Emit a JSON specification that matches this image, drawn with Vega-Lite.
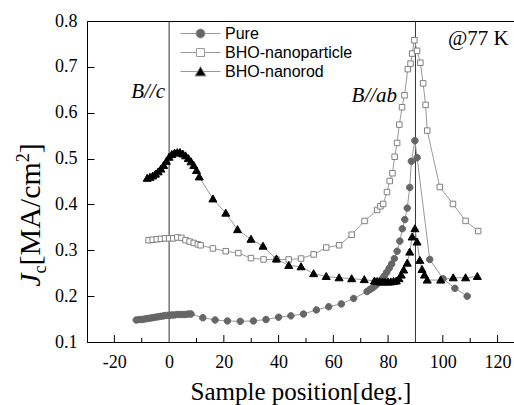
{
  "$schema": "https://vega.github.io/schema/vega-lite/v6.json",
  "width": 427,
  "height": 321,
  "autosize": {"type": "none"},
  "padding": {"left": 87, "top": 21, "right": 0, "bottom": 63},
  "background": "white",
  "config": {
    "view": {"stroke": "black", "strokeWidth": 1},
    "axis": {"grid": false, "domainColor": "black", "tickColor": "black", "labelColor": "black", "titleColor": "black"}
  },
  "datasets": {
    "jc": [
      {"series": "Pure", "x": -12, "y": 0.148}, {"series": "Pure", "x": -11, "y": 0.149}, {"series": "Pure", "x": -10, "y": 0.149}, {"series": "Pure", "x": -9, "y": 0.150}, {"series": "Pure", "x": -8, "y": 0.151}, {"series": "Pure", "x": -7, "y": 0.152}, {"series": "Pure", "x": -6, "y": 0.153}, {"series": "Pure", "x": -5, "y": 0.154}, {"series": "Pure", "x": -4, "y": 0.155}, {"series": "Pure", "x": -3, "y": 0.156}, {"series": "Pure", "x": -2, "y": 0.157}, {"series": "Pure", "x": -1, "y": 0.158}, {"series": "Pure", "x": 0, "y": 0.158}, {"series": "Pure", "x": 1, "y": 0.159}, {"series": "Pure", "x": 2, "y": 0.159}, {"series": "Pure", "x": 3, "y": 0.160}, {"series": "Pure", "x": 4, "y": 0.160}, {"series": "Pure", "x": 5, "y": 0.160}, {"series": "Pure", "x": 6, "y": 0.160}, {"series": "Pure", "x": 7, "y": 0.161}, {"series": "Pure", "x": 8, "y": 0.161},
      {"series": "Pure", "x": 12.3, "y": 0.153}, {"series": "Pure", "x": 16.8, "y": 0.148}, {"series": "Pure", "x": 21.3, "y": 0.146}, {"series": "Pure", "x": 26, "y": 0.145}, {"series": "Pure", "x": 30.8, "y": 0.146}, {"series": "Pure", "x": 35.4, "y": 0.149}, {"series": "Pure", "x": 40, "y": 0.154}, {"series": "Pure", "x": 44.5, "y": 0.157}, {"series": "Pure", "x": 49.1, "y": 0.161}, {"series": "Pure", "x": 53.8, "y": 0.170}, {"series": "Pure", "x": 58.3, "y": 0.177}, {"series": "Pure", "x": 62.9, "y": 0.183}, {"series": "Pure", "x": 67.4, "y": 0.195}, {"series": "Pure", "x": 72.3, "y": 0.210},
      {"series": "Pure", "x": 73.2, "y": 0.214}, {"series": "Pure", "x": 74.1, "y": 0.217}, {"series": "Pure", "x": 75, "y": 0.221}, {"series": "Pure", "x": 75.9, "y": 0.226}, {"series": "Pure", "x": 76.8, "y": 0.231}, {"series": "Pure", "x": 77.7, "y": 0.237}, {"series": "Pure", "x": 78.6, "y": 0.244}, {"series": "Pure", "x": 79.5, "y": 0.252}, {"series": "Pure", "x": 80.4, "y": 0.261}, {"series": "Pure", "x": 81.3, "y": 0.270}, {"series": "Pure", "x": 82.3, "y": 0.282}, {"series": "Pure", "x": 83.3, "y": 0.298}, {"series": "Pure", "x": 84.3, "y": 0.320}, {"series": "Pure", "x": 85.2, "y": 0.347}, {"series": "Pure", "x": 86.1, "y": 0.367}, {"series": "Pure", "x": 87, "y": 0.392}, {"series": "Pure", "x": 87.9, "y": 0.437}, {"series": "Pure", "x": 88.5, "y": 0.494}, {"series": "Pure", "x": 89.8, "y": 0.539}, {"series": "Pure", "x": 90.6, "y": 0.502}, {"series": "Pure", "x": 95.2, "y": 0.280}, {"series": "Pure", "x": 100.1, "y": 0.238}, {"series": "Pure", "x": 104.4, "y": 0.217}, {"series": "Pure", "x": 108.9, "y": 0.200},
      {"series": "BHO-nanoparticle", "x": -7.5, "y": 0.322}, {"series": "BHO-nanoparticle", "x": -6, "y": 0.323}, {"series": "BHO-nanoparticle", "x": -4.5, "y": 0.324}, {"series": "BHO-nanoparticle", "x": -3, "y": 0.325}, {"series": "BHO-nanoparticle", "x": -1.5, "y": 0.326}, {"series": "BHO-nanoparticle", "x": 0, "y": 0.326}, {"series": "BHO-nanoparticle", "x": 1.5, "y": 0.326}, {"series": "BHO-nanoparticle", "x": 3, "y": 0.328}, {"series": "BHO-nanoparticle", "x": 4.5, "y": 0.327}, {"series": "BHO-nanoparticle", "x": 6, "y": 0.322}, {"series": "BHO-nanoparticle", "x": 7.5, "y": 0.319}, {"series": "BHO-nanoparticle", "x": 9, "y": 0.316}, {"series": "BHO-nanoparticle", "x": 10.5, "y": 0.313}, {"series": "BHO-nanoparticle", "x": 11.5, "y": 0.311},
      {"series": "BHO-nanoparticle", "x": 16, "y": 0.304}, {"series": "BHO-nanoparticle", "x": 20.7, "y": 0.298}, {"series": "BHO-nanoparticle", "x": 25.3, "y": 0.294}, {"series": "BHO-nanoparticle", "x": 29.9, "y": 0.283}, {"series": "BHO-nanoparticle", "x": 34.5, "y": 0.280}, {"series": "BHO-nanoparticle", "x": 39.2, "y": 0.280}, {"series": "BHO-nanoparticle", "x": 43.7, "y": 0.280}, {"series": "BHO-nanoparticle", "x": 48.2, "y": 0.282}, {"series": "BHO-nanoparticle", "x": 52.8, "y": 0.291}, {"series": "BHO-nanoparticle", "x": 57.4, "y": 0.306}, {"series": "BHO-nanoparticle", "x": 62.1, "y": 0.311}, {"series": "BHO-nanoparticle", "x": 66.7, "y": 0.334}, {"series": "BHO-nanoparticle", "x": 71.4, "y": 0.364}, {"series": "BHO-nanoparticle", "x": 76, "y": 0.388}, {"series": "BHO-nanoparticle", "x": 77.2, "y": 0.396}, {"series": "BHO-nanoparticle", "x": 78.2, "y": 0.401}, {"series": "BHO-nanoparticle", "x": 79.6, "y": 0.427}, {"series": "BHO-nanoparticle", "x": 80.6, "y": 0.451}, {"series": "BHO-nanoparticle", "x": 81.6, "y": 0.468}, {"series": "BHO-nanoparticle", "x": 82.4, "y": 0.504}, {"series": "BHO-nanoparticle", "x": 83.3, "y": 0.534}, {"series": "BHO-nanoparticle", "x": 84.1, "y": 0.574}, {"series": "BHO-nanoparticle", "x": 85.1, "y": 0.612}, {"series": "BHO-nanoparticle", "x": 86, "y": 0.638}, {"series": "BHO-nanoparticle", "x": 87.2, "y": 0.695}, {"series": "BHO-nanoparticle", "x": 88.2, "y": 0.707}, {"series": "BHO-nanoparticle", "x": 88.8, "y": 0.729}, {"series": "BHO-nanoparticle", "x": 89.6, "y": 0.758}, {"series": "BHO-nanoparticle", "x": 90.6, "y": 0.735}, {"series": "BHO-nanoparticle", "x": 91.8, "y": 0.709}, {"series": "BHO-nanoparticle", "x": 92.8, "y": 0.664}, {"series": "BHO-nanoparticle", "x": 93.7, "y": 0.617}, {"series": "BHO-nanoparticle", "x": 94.3, "y": 0.561}, {"series": "BHO-nanoparticle", "x": 98.9, "y": 0.438}, {"series": "BHO-nanoparticle", "x": 103.7, "y": 0.401}, {"series": "BHO-nanoparticle", "x": 108.3, "y": 0.364}, {"series": "BHO-nanoparticle", "x": 112.9, "y": 0.342},
      {"series": "BHO-nanorod", "x": -8, "y": 0.457}, {"series": "BHO-nanorod", "x": -7, "y": 0.459}, {"series": "BHO-nanorod", "x": -6, "y": 0.462}, {"series": "BHO-nanorod", "x": -5, "y": 0.466}, {"series": "BHO-nanorod", "x": -4, "y": 0.471}, {"series": "BHO-nanorod", "x": -3, "y": 0.477}, {"series": "BHO-nanorod", "x": -2, "y": 0.485}, {"series": "BHO-nanorod", "x": -1, "y": 0.494}, {"series": "BHO-nanorod", "x": 0, "y": 0.503}, {"series": "BHO-nanorod", "x": 1, "y": 0.509}, {"series": "BHO-nanorod", "x": 2, "y": 0.512}, {"series": "BHO-nanorod", "x": 3, "y": 0.513}, {"series": "BHO-nanorod", "x": 4, "y": 0.513}, {"series": "BHO-nanorod", "x": 5, "y": 0.510}, {"series": "BHO-nanorod", "x": 6, "y": 0.506}, {"series": "BHO-nanorod", "x": 7, "y": 0.500}, {"series": "BHO-nanorod", "x": 8, "y": 0.493}, {"series": "BHO-nanorod", "x": 9, "y": 0.485}, {"series": "BHO-nanorod", "x": 10, "y": 0.474}, {"series": "BHO-nanorod", "x": 11, "y": 0.460},
      {"series": "BHO-nanorod", "x": 16, "y": 0.412}, {"series": "BHO-nanorod", "x": 20.7, "y": 0.381}, {"series": "BHO-nanorod", "x": 25, "y": 0.345}, {"series": "BHO-nanorod", "x": 29.9, "y": 0.324}, {"series": "BHO-nanorod", "x": 34.3, "y": 0.309}, {"series": "BHO-nanorod", "x": 39.2, "y": 0.281}, {"series": "BHO-nanorod", "x": 43.7, "y": 0.267}, {"series": "BHO-nanorod", "x": 48.2, "y": 0.264}, {"series": "BHO-nanorod", "x": 52.8, "y": 0.249}, {"series": "BHO-nanorod", "x": 57.4, "y": 0.243}, {"series": "BHO-nanorod", "x": 62.1, "y": 0.240}, {"series": "BHO-nanorod", "x": 66.7, "y": 0.238}, {"series": "BHO-nanorod", "x": 71.3, "y": 0.236},
      {"series": "BHO-nanorod", "x": 75, "y": 0.233}, {"series": "BHO-nanorod", "x": 76, "y": 0.232}, {"series": "BHO-nanorod", "x": 77, "y": 0.231}, {"series": "BHO-nanorod", "x": 78, "y": 0.231}, {"series": "BHO-nanorod", "x": 79, "y": 0.231}, {"series": "BHO-nanorod", "x": 80, "y": 0.231}, {"series": "BHO-nanorod", "x": 81, "y": 0.231}, {"series": "BHO-nanorod", "x": 82, "y": 0.232}, {"series": "BHO-nanorod", "x": 83, "y": 0.233}, {"series": "BHO-nanorod", "x": 84, "y": 0.238}, {"series": "BHO-nanorod", "x": 84.8, "y": 0.246}, {"series": "BHO-nanorod", "x": 85.7, "y": 0.257}, {"series": "BHO-nanorod", "x": 87, "y": 0.272}, {"series": "BHO-nanorod", "x": 87.9, "y": 0.296}, {"series": "BHO-nanorod", "x": 88.8, "y": 0.329}, {"series": "BHO-nanorod", "x": 89.8, "y": 0.347}, {"series": "BHO-nanorod", "x": 90.6, "y": 0.318}, {"series": "BHO-nanorod", "x": 91.6, "y": 0.278}, {"series": "BHO-nanorod", "x": 92.4, "y": 0.258}, {"series": "BHO-nanorod", "x": 93.3, "y": 0.246}, {"series": "BHO-nanorod", "x": 94.3, "y": 0.235}, {"series": "BHO-nanorod", "x": 99.2, "y": 0.235}, {"series": "BHO-nanorod", "x": 103.8, "y": 0.240}, {"series": "BHO-nanorod", "x": 108.3, "y": 0.240}, {"series": "BHO-nanorod", "x": 112.6, "y": 0.243}
    ]
  },
  "layer": [
    {
      "data": {"name": "jc"},
      "mark": {"type": "point", "filled": true, "strokeWidth": 1, "opacity": 0, "size": 400},
      "encoding": {
        "x": {
          "field": "x", "type": "quantitative",
          "scale": {"domain": [-30, 126], "nice": false, "zero": false},
          "axis": {
            "values": [-20, 0, 20, 40, 60, 80, 100, 120],
            "labelExpr": "replace(datum.label, '\u2212', '-')",
            "ticks": false,
            "labelPadding": 11, "labelFlush": false, "labelOverlap": false,
            "labelFont": "Liberation Serif", "labelFontSize": 18, "labelColor": "black",
            "title": "Sample position[deg.]", "titleFont": "Liberation Serif", "titleFontSize": 25, "titleFontWeight": "normal", "titlePadding": 8
          }
        },
        "y": {
          "field": "y", "type": "quantitative",
          "scale": {"domain": [0.1, 0.8], "nice": false, "zero": false},
          "axis": {
            "values": [0.1, 0.15, 0.2, 0.25, 0.3, 0.35, 0.4, 0.45, 0.5, 0.55, 0.6, 0.65, 0.7, 0.75, 0.8],
            "labelExpr": "round(datum.value * 100) % 10 === 0 ? format(datum.value, '.1f') : ''",
            "tickSize": {"condition": {"test": "round(datum.value * 100) % 10 === 0", "value": -7}, "value": -4},
            "labelPadding": 17, "labelFlush": false, "labelOverlap": false,
            "labelFont": "Liberation Serif", "labelFontSize": 18,
            "title": ""
          }
        },
        "shape": {
          "field": "series", "type": "nominal",
          "scale": {"domain": ["Pure", "BHO-nanoparticle", "BHO-nanorod"], "range": ["M-2,0H-0.45M0.45,0H2M-0.45,0A0.45,0.45,0,1,1,0.45,0A0.45,0.45,0,1,1,-0.45,0Z", "M-2,0H-0.4M0.4,0H2M-0.4,-0.4H0.4V0.4H-0.4Z", "M-2,0H-0.29M0.29,0H2M0,-0.5L0.55,0.45H-0.55Z"]},
          "legend": {
            "orient": "none", "legendX": 103, "legendY": 2, "title": null,
            "symbolSize": 400, "symbolOpacity": 1, "symbolStrokeWidth": 1,
            "labelFont": "Liberation Sans", "labelFontSize": 16, "labelColor": "black",
            "labelOffset": 14, "rowPadding": 0, "padding": 0
          }
        },
        "fill": {"field": "series", "type": "nominal", "scale": {"domain": ["Pure", "BHO-nanoparticle", "BHO-nanorod"], "range": ["#666666", "#ffffff", "#000000"]}},
        "stroke": {"field": "series", "type": "nominal", "scale": {"domain": ["Pure", "BHO-nanoparticle", "BHO-nanorod"], "range": ["#999999", "#999999", "#999999"]}}
      }
    },
    {
      "data": {"values": [{"x": 0}, {"x": 90}]},
      "mark": {"type": "rule", "color": "#333333", "strokeWidth": 1},
      "encoding": {
        "x": {"field": "x", "type": "quantitative", "scale": {"domain": [-30, 126], "nice": false, "zero": false}, "title": "Sample position[deg.]"}
      }
    },
    {
      "data": {"values": [{"x": -20}, {"x": 20}, {"x": 40}, {"x": 60}, {"x": 80}, {"x": 100}, {"x": 120}]},
      "mark": {"type": "rule", "color": "black", "strokeWidth": 1},
      "encoding": {
        "x": {"field": "x", "type": "quantitative", "scale": {"domain": [-30, 126], "nice": false, "zero": false}, "title": "Sample position[deg.]"},
        "y": {"datum": 0.1, "type": "quantitative", "scale": {"domain": [0.1, 0.8], "nice": false, "zero": false}, "title": ""},
        "y2": {"datum": 0.1152}
      }
    },
    {
      "data": {"values": [{"x": -10}, {"x": 10}, {"x": 30}, {"x": 50}, {"x": 70}, {"x": 110}]},
      "mark": {"type": "rule", "color": "black", "strokeWidth": 1},
      "encoding": {
        "x": {"field": "x", "type": "quantitative", "scale": {"domain": [-30, 126], "nice": false, "zero": false}, "title": "Sample position[deg.]"},
        "y": {"datum": 0.1, "type": "quantitative", "scale": {"domain": [0.1, 0.8], "nice": false, "zero": false}, "title": ""},
        "y2": {"datum": 0.1087}
      }
    },
    {
      "data": {"name": "jc"},
      "mark": {"type": "line", "stroke": "#999999", "strokeWidth": 1},
      "encoding": {
        "x": {"field": "x", "type": "quantitative", "scale": {"domain": [-30, 126], "nice": false, "zero": false}, "title": "Sample position[deg.]"},
        "y": {"field": "y", "type": "quantitative", "scale": {"domain": [0.1, 0.8], "nice": false, "zero": false}, "title": ""},
        "detail": {"field": "series", "type": "nominal"}
      }
    },
    {
      "data": {"name": "jc"},
      "transform": [{"filter": "datum.series === 'Pure'"}],
      "mark": {"type": "point", "filled": true, "fill": "#666666", "stroke": "#666666", "strokeWidth": 1, "opacity": 1, "size": 100, "shape": "M-0.65,0A0.65,0.65,0,1,1,0.65,0A0.65,0.65,0,1,1,-0.65,0Z"},
      "encoding": {
        "x": {"field": "x", "type": "quantitative", "scale": {"domain": [-30, 126], "nice": false, "zero": false}, "title": "Sample position[deg.]"},
        "y": {"field": "y", "type": "quantitative", "scale": {"domain": [0.1, 0.8], "nice": false, "zero": false}, "title": ""}
      }
    },
    {
      "data": {"name": "jc"},
      "transform": [{"filter": "datum.series === 'BHO-nanoparticle'"}],
      "mark": {"type": "point", "filled": true, "fill": "#ffffff", "stroke": "#808080", "strokeWidth": 1, "opacity": 1, "size": 100, "shape": "M-0.55,-0.55H0.55V0.55H-0.55Z"},
      "encoding": {
        "x": {"field": "x", "type": "quantitative", "scale": {"domain": [-30, 126], "nice": false, "zero": false}, "title": "Sample position[deg.]"},
        "y": {"field": "y", "type": "quantitative", "scale": {"domain": [0.1, 0.8], "nice": false, "zero": false}, "title": ""}
      }
    },
    {
      "data": {"name": "jc"},
      "transform": [{"filter": "datum.series === 'BHO-nanorod'"}],
      "mark": {"type": "point", "filled": true, "fill": "#000000", "stroke": "#000000", "strokeWidth": 1, "opacity": 1, "size": 100, "shape": "M0,-0.8L0.8,0.6H-0.8Z"},
      "encoding": {
        "x": {"field": "x", "type": "quantitative", "scale": {"domain": [-30, 126], "nice": false, "zero": false}, "title": "Sample position[deg.]"},
        "y": {"field": "y", "type": "quantitative", "scale": {"domain": [0.1, 0.8], "nice": false, "zero": false}, "title": ""}
      }
    },
    {
      "data": {"values": [{"label": "J", "x": -47.1, "y": 0.2205}]},
      "mark": {"type": "text", "angle": 270, "align": "left", "baseline": "alphabetic", "font": "Liberation Serif", "fontSize": 30, "fontStyle": "italic", "color": "black"},
      "encoding": {
        "x": {"field": "x", "type": "quantitative", "scale": {"domain": [-30, 126], "nice": false, "zero": false}, "title": "Sample position[deg.]"},
        "y": {"field": "y", "type": "quantitative", "scale": {"domain": [0.1, 0.8], "nice": false, "zero": false}, "title": ""},
        "text": {"field": "label"}
      }
    },
    {
      "data": {"values": [{"label": "c", "x": -44.9, "y": 0.2495}, {"label": "2", "x": -51.2, "y": 0.4919}]},
      "mark": {"type": "text", "angle": 270, "align": "left", "baseline": "alphabetic", "font": "Liberation Serif", "fontSize": 18, "color": "black"},
      "encoding": {
        "x": {"field": "x", "type": "quantitative", "scale": {"domain": [-30, 126], "nice": false, "zero": false}, "title": "Sample position[deg.]"},
        "y": {"field": "y", "type": "quantitative", "scale": {"domain": [0.1, 0.8], "nice": false, "zero": false}, "title": ""},
        "text": {"field": "label"}
      }
    },
    {
      "data": {"values": [{"label": "[MA/cm", "x": -47.1, "y": 0.2669}, {"label": "]", "x": -47.1, "y": 0.5115}]},
      "mark": {"type": "text", "angle": 270, "align": "left", "baseline": "alphabetic", "font": "Liberation Serif", "fontSize": 30, "color": "black"},
      "encoding": {
        "x": {"field": "x", "type": "quantitative", "scale": {"domain": [-30, 126], "nice": false, "zero": false}, "title": "Sample position[deg.]"},
        "y": {"field": "y", "type": "quantitative", "scale": {"domain": [0.1, 0.8], "nice": false, "zero": false}, "title": ""},
        "text": {"field": "label"}
      }
    },
    {
      "data": {"values": [{"label": "B//c", "x": -1.5, "y": 0.632}, {"label": "B//ab", "x": 83.3, "y": 0.623}]},
      "mark": {"type": "text", "align": "right", "baseline": "alphabetic", "font": "Liberation Serif", "fontSize": 21, "fontStyle": "italic", "color": "black"},
      "encoding": {
        "x": {"field": "x", "type": "quantitative", "scale": {"domain": [-30, 126], "nice": false, "zero": false}, "title": "Sample position[deg.]"},
        "y": {"field": "y", "type": "quantitative", "scale": {"domain": [0.1, 0.8], "nice": false, "zero": false}, "title": ""},
        "text": {"field": "label"}
      }
    },
    {
      "data": {"values": [{"label": "@77 K", "x": 101.9, "y": 0.748}]},
      "mark": {"type": "text", "align": "left", "baseline": "alphabetic", "font": "Liberation Serif", "fontSize": 21, "color": "black"},
      "encoding": {
        "x": {"field": "x", "type": "quantitative", "scale": {"domain": [-30, 126], "nice": false, "zero": false}, "title": "Sample position[deg.]"},
        "y": {"field": "y", "type": "quantitative", "scale": {"domain": [0.1, 0.8], "nice": false, "zero": false}, "title": ""},
        "text": {"field": "label"}
      }
    }
  ]
}
